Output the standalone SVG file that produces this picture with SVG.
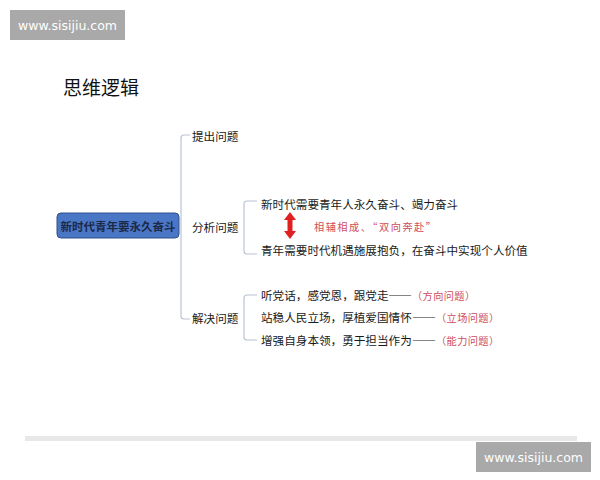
<svg xmlns="http://www.w3.org/2000/svg" width="600" height="480" viewBox="0 0 600 480" xml:lang="zh-CN">
<style>
.t{font-family:"Noto Sans CJK SC","Liberation Sans",sans-serif;font-size:11.6px;fill:#1a1a1a;dominant-baseline:central}
.r{font-family:"Noto Sans CJK SC","Liberation Serif",serif;font-size:10.2px;fill:#cf4d5c;dominant-baseline:central;letter-spacing:0.4px}
.d{letter-spacing:0}
.ln{fill:none;stroke:#b9c3d3;stroke-width:1.2}
.wm{fill:#a9a9a9}
.wt{font-family:"DejaVu Sans","Liberation Sans",sans-serif;font-size:12.5px;fill:#ffffff;text-anchor:middle;dominant-baseline:central}
</style>
<rect width="600" height="480" fill="#ffffff"/>
<g id="watermark-top"><rect class="wm" x="10" y="10" width="115" height="30"/><text class="wt" x="67.5" y="25">www.sisijiu.com</text></g>
<text x="63" y="86" style="font-family:'Noto Sans CJK SC',sans-serif;font-size:19px;fill:#111;dominant-baseline:central">思维逻辑</text>
<g id="connectors">
<path class="ln" d="M190,135 H184 Q181,135 181,138 V316 Q181,319 184,319 H190"/>
<path class="ln" d="M257,201 H247 Q244,201 244,204 V251 Q244,254 247,254 H257"/>
<path class="ln" d="M257,295 H247 Q244,295 244,298 V337 Q244,340 247,340 H257"/>
<path d="M290,212 L296,220 H292.5 V231 H296 L290,239 L284,231 H287.5 V220 H284 Z" fill="#e02020"/>
</g>
<g id="root"><rect x="57" y="213" width="122" height="25" rx="4" fill="#4a76c6" stroke="#2f4f8a" stroke-width="1"/><text class="t" x="118" y="225.5" text-anchor="middle" style="font-weight:bold;fill:#1c2a4a;font-size:11.5px">新时代青年要永久奋斗</text></g>
<g id="n-tichu"><text class="t" x="192" y="136">提出问题</text></g>
<g id="n-fenxi"><text class="t" x="192" y="227">分析问题</text></g>
<g id="n-jiejue"><text class="t" x="192" y="318">解决问题</text></g>
<g id="n-a1"><text class="t" x="261" y="204">新时代需要青年人永久奋斗、竭力奋斗</text></g>
<g id="n-a2"><text class="t" x="261" y="250">青年需要时代机遇施展抱负，在奋斗中实现个人价值</text></g>
<g id="n-a3"><text class="r" x="314" y="226" style="letter-spacing:1.5px">相辅相成、“双向奔赴”</text></g>
<g id="n-b1"><text class="t" x="261" y="295">听党话，感党恩，跟党走<tspan x="388" textLength="24" lengthAdjust="spacingAndGlyphs">——</tspan><tspan class="r" x="412">（方向问题）</tspan></text></g>
<g id="n-b2"><text class="t" x="261" y="317">站稳人民立场，厚植爱国情怀<tspan x="412" textLength="24" lengthAdjust="spacingAndGlyphs">——</tspan><tspan class="r" x="436">（立场问题）</tspan></text></g>
<g id="n-b3"><text class="t" x="261" y="340">增强自身本领，勇于担当作为<tspan x="412" textLength="24" lengthAdjust="spacingAndGlyphs">——</tspan><tspan class="r" x="436">（能力问题）</tspan></text></g>
<rect x="25" y="436" width="552" height="5" fill="#e8e8e8"/>
<g id="watermark-bottom"><rect class="wm" x="476" y="442" width="115" height="30"/><text class="wt" x="533.5" y="457">www.sisijiu.com</text></g>
</svg>
